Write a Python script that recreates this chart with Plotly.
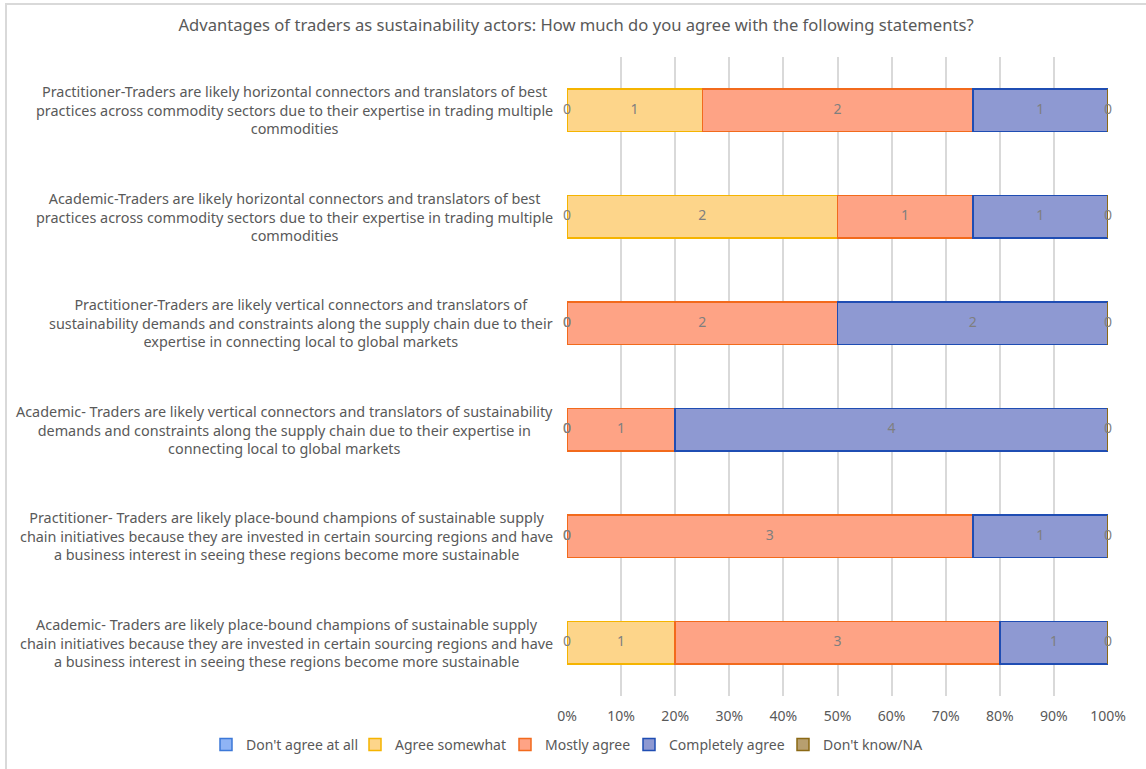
import plotly.graph_objects as go

title = "Advantages of traders as sustainability actors: How much do you agree with the following statements?"

categories = [
    "Practitioner-Traders are likely horizontal connectors and translators of best<br>practices across commodity sectors due to their expertise in trading multiple<br>commodities",
    "Academic-Traders are likely horizontal connectors and translators of best<br>practices across commodity sectors due to their expertise in trading multiple<br>commodities",
    "Practitioner-Traders are likely vertical connectors and translators of<br>sustainability demands and constraints along the supply chain due to their<br>expertise in connecting local to global markets",
    "Academic- Traders are likely vertical connectors and translators of sustainability<br>demands and constraints along the supply chain due to their expertise in<br>connecting local to global markets",
    "Practitioner- Traders are likely place-bound champions of sustainable supply<br>chain initiatives because they are invested in certain sourcing regions and have<br>a business interest in seeing these regions become more sustainable",
    "Academic- Traders are likely place-bound champions of sustainable supply<br>chain initiatives because they are invested in certain sourcing regions and have<br>a business interest in seeing these regions become more sustainable",
]
cat_ids = [f"c{i}" for i in range(len(categories))]

series_names = ["Don't agree at all", "Agree somewhat", "Mostly agree", "Completely agree", "Don't know/NA"]
dont_agree = [0, 0, 0, 0, 0, 0]
agree_somewhat = [1, 2, 0, 0, 0, 1]
mostly_agree = [2, 1, 2, 1, 3, 3]
completely_agree = [1, 1, 2, 4, 1, 1]
dont_know = [0, 0, 0, 0, 0, 0]
series_values = [dont_agree, agree_somewhat, mostly_agree, completely_agree, dont_know]

x_ticks = list(range(0, 101, 10))
x_tick_labels = [f"{t}%" for t in x_ticks]

fills = ["#8fb4f5", "#fdd58a", "#fea385", "#8e99d2", "#b79f6f"]
borders = ["#3c78d8", "#f5b400", "#f26a1c", "#1f4db3", "#8b6914"]
# legend text start positions (px) for each series entry
legend_text_x = [246, 395, 545, 669, 823]

FONT = "Noto Sans, Liberation Sans, Arial"
W, H = 1146, 769
L, R, T, B = 567, 1108, 57, 696

fig = go.Figure()
legend_keys = ["legend"] + [f"legend{i}" for i in range(2, len(series_names) + 1)]
for name, vals, fc, bc, lk in zip(series_names, series_values, fills, borders, legend_keys):
    fig.add_trace(go.Bar(
        y=cat_ids, x=vals, name=name, orientation="h",
        marker=dict(color=fc, line=dict(color=bc, width=1.5)),
        width=0.4, hoverinfo="skip", legend=lk,
    ))

# data labels at segment centres (percent of each row total)
totals = [sum(s[i] for s in series_values) for i in range(len(cat_ids))]
cum = [0.0] * len(cat_ids)
for vals in series_values:
    xs = []
    for i, v in enumerate(vals):
        p = 100.0 * v / totals[i]
        xs.append(cum[i] + p / 2)
        cum[i] += p
    fig.add_trace(go.Scatter(
        x=xs, y=cat_ids, mode="text", text=[str(v) for v in vals],
        textfont=dict(color="#7f7f7f", size=14, family=FONT),
        showlegend=False, hoverinfo="skip", cliponaxis=False,
    ))

def px_x(p):
    return (p - L) / (R - L)

def px_y(p):
    return (B - p) / (B - T)

# category labels centred
for cid, label in zip(cat_ids, categories):
    fig.add_annotation(
        x=px_x(555), xref="paper", y=cid, yref="y",
        text=label, showarrow=False, xanchor="right", yanchor="middle", align="center",
        font=dict(size=14.4, color="#595959", family=FONT),
    )

# chart frame (left and top edges visible)
fig.add_shape(type="rect", xref="paper", yref="paper",
              x0=px_x(6), x1=px_x(1160), y0=px_y(790), y1=px_y(4),
              line=dict(color="#d9d9d9", width=2), fillcolor="rgba(0,0,0,0)", layer="below")

legend_layouts = {}
for lk, tx in zip(legend_keys, legend_text_x):
    legend_layouts[lk] = dict(
        orientation="h", xref="container", yref="container",
        x=(tx - 27) / W, xanchor="left", y=1 - 745 / H, yanchor="middle",
        font=dict(size=14, color="#595959", family=FONT), itemwidth=30, indentation=-13,
        bgcolor="rgba(0,0,0,0)",
    )

fig.update_layout(
    width=W, height=H,
    margin=dict(l=L, r=W - R, t=T, b=H - B, autoexpand=False),
    barmode="stack", barnorm="percent",
    paper_bgcolor="white", plot_bgcolor="white",
    title=dict(text=title, x=576 / W, xref="container", xanchor="center", y=1 - 25 / H, yanchor="middle",
               font=dict(size=16.6, color="#595959", family=FONT)),
    font=dict(family=FONT, color="#595959", size=13),
    showlegend=True,
    **legend_layouts,
)
fig.update_xaxes(range=[0, 100], tickvals=x_ticks, ticktext=x_tick_labels,
                 showgrid=True, gridcolor="#d9d9d9", gridwidth=1.5, zeroline=False,
                 showline=False, ticks="", tickfont=dict(size=14, color="#595959", family=FONT),
                 ticklabelstandoff=10)
fig.update_yaxes(categoryorder="array", categoryarray=cat_ids, autorange="reversed",
                 showticklabels=False, showgrid=False, zeroline=False, showline=False)

fig.write_html("out.html")
